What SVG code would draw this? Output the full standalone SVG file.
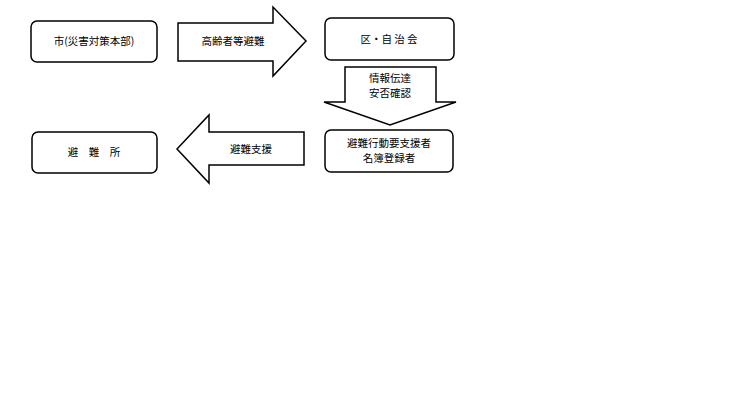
<svg xmlns="http://www.w3.org/2000/svg" width="740" height="410" viewBox="0 0 740 410">
<style>
.box{fill:#fff;stroke:#000;stroke-width:1.5}
.arr{fill:#fff;stroke:#000;stroke-width:1.5;stroke-linejoin:miter}
text{font-family:"Noto Sans CJK JP","Noto Sans CJK SC",sans-serif;font-size:10.5px;fill:#000;text-anchor:middle}
</style>
<rect width="740" height="410" fill="#fff"/>
<g id="connectors">
<g id="arrow-right">
<polygon class="arr" points="178,23 273,23 273,7 306,41 273,76 273,61 178,61"/>
<text x="233" y="45">高齢者等避難</text>
</g>
<g id="arrow-down">
<polygon class="arr" points="345,67 436,67 436,102 456,102 390,125 324,102 345,102"/>
<text x="390" y="82">情報伝達</text>
<text x="390" y="97">安否確認</text>
</g>
<g id="arrow-left">
<polygon class="arr" points="304,132 209,132 209,115 177,149 209,183 209,165 304,165"/>
<text x="251" y="153">避難支援</text>
</g>
</g>
<g id="node-city">
<rect class="box" x="31" y="21" width="126" height="41" rx="6"/>
<text x="94" y="45">市(災害対策本部)</text>
</g>
<g id="node-ward">
<rect class="box" x="325" y="18" width="129" height="42" rx="6"/>
<text x="389" y="43" xml:space="preserve">区・自 治 会</text>
</g>
<g id="node-list">
<rect class="box" x="325" y="130" width="128" height="42" rx="6"/>
<text x="389" y="147">避難行動要支援者</text>
<text x="389" y="162">名簿登録者</text>
</g>
<g id="node-shelter">
<rect class="box" x="32" y="132" width="125" height="41" rx="6"/>
<text x="94" y="156" xml:space="preserve">避　難　所</text>
</g>
</svg>
